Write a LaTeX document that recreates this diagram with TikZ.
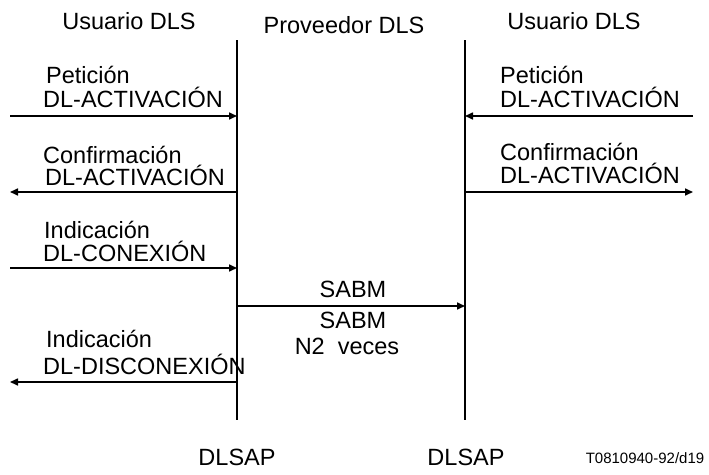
\documentclass[tikz,border=0pt]{standalone}
\usepackage{fontspec}
\setmainfont{Liberation Sans}
\usetikzlibrary{arrows.meta,positioning}

\begin{document}
\begin{tikzpicture}[x=1pt, y=-1pt,
	every node/.style={inner sep=0pt, font=\fontsize{23.5}{26}\selectfont},
	lbl/.style={anchor=base west},
	mid/.style={anchor=base},
	msg/.style={line width=1.6pt, -{Triangle[length=8pt,width=7pt]}},
	life/.style={line width=1.6pt}]
	\useasboundingbox (0,0) rectangle (709,474);
	% lifelines
	\coordinate (ltop) at (237,40);
	\coordinate (lbot) at (237,420);
	\coordinate (rtop) at (465,40);
	\coordinate (rbot) at (465,420);
	\draw[life] (ltop) -- (lbot);
	\draw[life] (rtop) -- (rbot);
	% headers
	\node[mid] (userL) at (129,29) {Usuario DLS};
	\node[mid] (prov) at (344,33) {Proveedor DLS};
	\node[mid] (userR) at (574,29) {Usuario DLS};
	% left user side
	\node[lbl] (petL) at (46,83) {Petición};
	\node[lbl] (actL) at (43,107) {DL-ACTIVACIÓN};
	\coordinate (e1) at (10,116);
	\draw[msg] (e1) -- (e1 -| ltop);
	\node[lbl] (conL) at (43,163) {Confirmación};
	\node[lbl] (act2L) at (45,185) {DL-ACTIVACIÓN};
	\coordinate (e2) at (10,192);
	\draw[msg] (e2 -| ltop) -- (e2);
	\node[lbl] (indL) at (44,238) {Indicación};
	\node[lbl] (cnxL) at (43,261) {DL-CONEXIÓN};
	\coordinate (e3) at (10,268);
	\draw[msg] (e3) -- (e3 -| ltop);
	\node[lbl] (ind2L) at (46,347) {Indicación};
	\node[lbl] (disL) at (43,374) {DL-DISCONEXIÓN};
	\coordinate (e5) at (10,382);
	\draw[msg] (e5 -| ltop) -- (e5);
	% provider
	\coordinate (s1) at (237,306);
	\draw[msg] (s1) -- (s1 -| rtop);
	\node[mid] (sabm1) at (353,297) {SABM};
	\node[mid] (sabm2) at (353,328) {SABM};
	\node[mid] (veces) at (347,354) {N2\ \ veces};
	% right user side
	\node[lbl] (petR) at (500,83) {Petición};
	\node[lbl] (actR) at (500,107) {DL-ACTIVACIÓN};
	\coordinate (f1) at (693,116);
	\draw[msg] (f1) -- (f1 -| rtop);
	\node[lbl] (conR) at (500,160) {Confirmación};
	\node[lbl] (act2R) at (500,183) {DL-ACTIVACIÓN};
	\coordinate (f2) at (693,192);
	\draw[msg] (f2 -| rtop) -- (f2);
	% access points
	\node[mid] (sapL) at (237,465) {DLSAP};
	\node[mid] (sapR) at (466,465) {DLSAP};
	\node[mid, font=\fontsize{15}{17}\selectfont] (ref) at (645,463) {T0810940-92/d19};
\end{tikzpicture}
\end{document}
